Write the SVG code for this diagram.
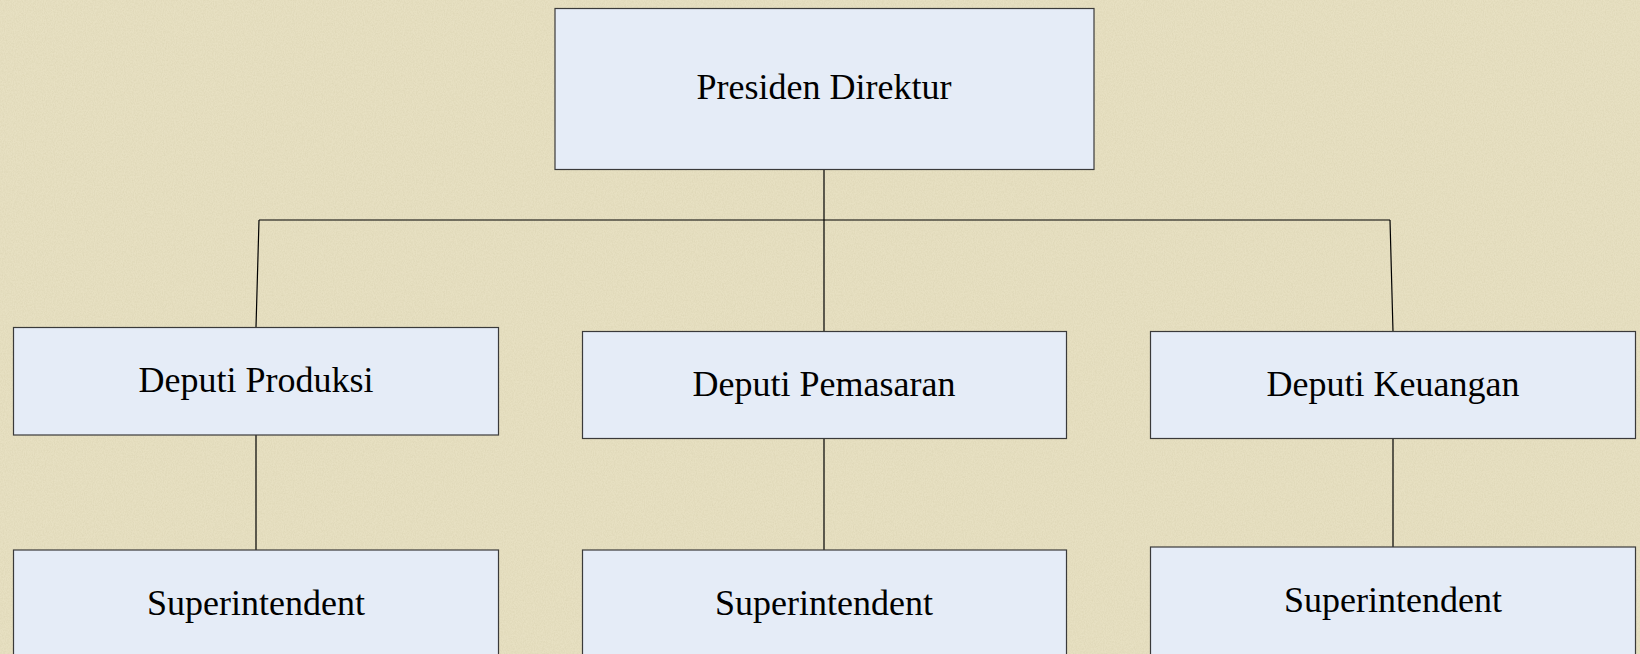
<svg xmlns="http://www.w3.org/2000/svg" width="1640" height="654" viewBox="0 0 1640 654">
  <style>
    .box { fill: #E5ECF7; stroke: #3a3a3a; stroke-width: 1.2; }
    .lbl { font-family: "Liberation Serif", "Times New Roman", serif; font-size: 36px; fill: #000; text-anchor: middle; }
    .conn { fill: none; stroke: #000; stroke-width: 1.2; }
  </style>
  <defs>
    <filter id="tex" x="0" y="0" width="100%" height="100%">
      <feTurbulence type="fractalNoise" baseFrequency="0.9 0.6" numOctaves="3" seed="4" result="n"/>
      <feColorMatrix type="matrix" values="0 0 0 0 0.55  0 0 0 0 0.5  0 0 0 0 0.3  0 0 0 -1.1 0.75" in="n"/>
    </filter>
  </defs>
  <rect x="0" y="0" width="1640" height="654" fill="#E7E0C2"/>
  <rect x="0" y="0" width="1640" height="654" filter="url(#tex)" opacity="0.35"/>

  <g id="connectors">
    <path class="conn" d="M824 169 V220 M259 220 H1390 M259 220 L256 327.5 M1390 220 L1393 331.5 M824 220 V331.5"/>
    <path class="conn" d="M256 435 V550 M824 438.5 V550 M1393 438.5 V547"/>
  </g>

  <g id="presiden">
    <rect class="box" x="555" y="8.5" width="539" height="161"/>
    <text class="lbl" x="824" y="99">Presiden Direktur</text>
  </g>
  <g id="deputi-produksi">
    <rect class="box" x="13.5" y="327.5" width="485" height="107.5"/>
    <text class="lbl" x="256" y="392">Deputi Produksi</text>
  </g>
  <g id="deputi-pemasaran">
    <rect class="box" x="582.5" y="331.5" width="484" height="107"/>
    <text class="lbl" x="824" y="396">Deputi Pemasaran</text>
  </g>
  <g id="deputi-keuangan">
    <rect class="box" x="1150.5" y="331.5" width="485" height="107"/>
    <text class="lbl" x="1393" y="396">Deputi Keuangan</text>
  </g>
  <g id="superintendent-1">
    <rect class="box" x="13.5" y="550" width="485" height="120"/>
    <text class="lbl" x="256" y="615">Superintendent</text>
  </g>
  <g id="superintendent-2">
    <rect class="box" x="582.5" y="550" width="484" height="120"/>
    <text class="lbl" x="824" y="615">Superintendent</text>
  </g>
  <g id="superintendent-3">
    <rect class="box" x="1150.5" y="547" width="485" height="120"/>
    <text class="lbl" x="1393" y="612">Superintendent</text>
  </g>
</svg>
